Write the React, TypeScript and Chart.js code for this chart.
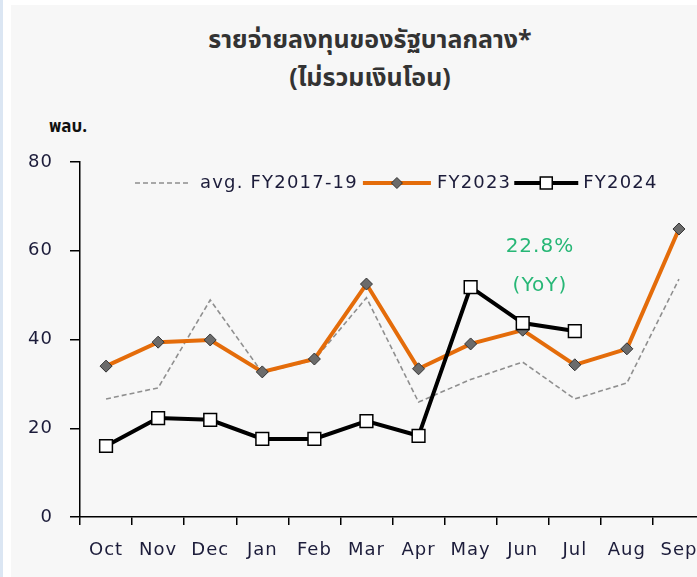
import React, { useEffect, useRef } from 'react';
import { Chart, registerables } from 'chart.js';

Chart.register(...registerables);

const months = ['Oct', 'Nov', 'Dec', 'Jan', 'Feb', 'Mar', 'Apr', 'May', 'Jun', 'Jul', 'Aug', 'Sep'];
const avgFY1719 = [26.6, 29.1, 48.9, 32.5, 35.4, 49.4, 25.9, 31.0, 34.9, 26.6, 30.2, 53.6];
const fy2023 = [34.0, 39.4, 39.9, 32.7, 35.6, 52.5, 33.4, 39.0, 42.1, 34.3, 37.9, 64.9];
const fy2024 = [16.0, 22.3, 21.9, 17.6, 17.6, 21.6, 18.3, 51.8, 43.7, 41.9];
const seriesNames = ['avg. FY2017-19', 'FY2023', 'FY2024'];
const yMin = 0;
const yMax = 80;
const yStep = 20;
const titleLines = ['รายจ่ายลงทุนของรัฐบาลกลาง*', '(ไม่รวมเงินโอน)'];
const unitLabel = 'พลบ.';
const yoyLines = ['22.8%', '(YoY)'];

const TEXT = '#1c1c3a';
const ORANGE = '#e46c0a';
const FONT = '"DejaVu Sans", Verdana, sans-serif';

export default function App() {
  const ref = useRef<HTMLCanvasElement>(null);

  useEffect(() => {
    const canvas = ref.current!;

    const spacingPlugin = {
      id: 'spacing',
      beforeDraw(chart: any) {
        try {
          (chart.ctx as any).letterSpacing = '1px';
        } catch (e) {
          /* ignore */
        }
      },
    };

    const legendPlugin = {
      id: 'customLegend',
      afterDraw(chart: any) {
        const ctx = chart.ctx;
        ctx.save();
        (ctx as any).letterSpacing = '1.2px';
        ctx.font = `18px ${FONT}`;
        ctx.textBaseline = 'middle';
        const y = 183;
        let x = 135;
        const ds = chart.data.datasets;
        // avg dashed
        ctx.strokeStyle = ds[0].borderColor;
        ctx.lineWidth = 1.5;
        ctx.setLineDash([5, 3]);
        ctx.beginPath();
        ctx.moveTo(x, y);
        ctx.lineTo(x + 56, y);
        ctx.stroke();
        ctx.setLineDash([]);
        x += 65;
        ctx.fillStyle = TEXT;
        ctx.fillText(ds[0].label, x, y);
        x += ctx.measureText(ds[0].label).width + 5;
        // FY2023
        ctx.strokeStyle = ds[1].borderColor;
        ctx.lineWidth = 4;
        ctx.beginPath();
        ctx.moveTo(x, y);
        ctx.lineTo(x + 68, y);
        ctx.stroke();
        const cx1 = x + 34;
        ctx.fillStyle = '#6b6b6b';
        ctx.strokeStyle = '#333';
        ctx.lineWidth = 1;
        ctx.beginPath();
        ctx.moveTo(cx1, y - 5.5);
        ctx.lineTo(cx1 + 5.5, y);
        ctx.lineTo(cx1, y + 5.5);
        ctx.lineTo(cx1 - 5.5, y);
        ctx.closePath();
        ctx.fill();
        ctx.stroke();
        x += 74;
        ctx.fillStyle = TEXT;
        ctx.fillText(ds[1].label, x, y);
        x += ctx.measureText(ds[1].label).width + 3;
        // FY2024
        ctx.strokeStyle = '#000';
        ctx.lineWidth = 4;
        ctx.beginPath();
        ctx.moveTo(x, y);
        ctx.lineTo(x + 64, y);
        ctx.stroke();
        const cx2 = x + 32;
        ctx.fillStyle = '#fff';
        ctx.lineWidth = 1.5;
        ctx.fillRect(cx2 - 6, y - 6, 12, 12);
        ctx.strokeRect(cx2 - 6, y - 6, 12, 12);
        x += 69;
        ctx.fillStyle = TEXT;
        ctx.fillText(ds[2].label, x, y);
        ctx.restore();
      },
    };

    const yoyPlugin = {
      id: 'yoyNote',
      afterDraw(chart: any) {
        const ctx = chart.ctx;
        const xs = chart.scales.x;
        const ys = chart.scales.y;
        ctx.save();
        (ctx as any).letterSpacing = '1px';
        ctx.font = `20px ${FONT}`;
        ctx.fillStyle = '#27b776';
        ctx.textAlign = 'center';
        ctx.textBaseline = 'middle';
        const cx = xs.getPixelForValue(8.33);
        ctx.fillText(yoyLines[0], cx, ys.getPixelForValue(60.8));
        ctx.fillText(yoyLines[1], cx, ys.getPixelForValue(52.2));
        ctx.restore();
      },
    };

    const chart = new Chart(canvas, {
      type: 'line',
      data: {
        labels: months,
        datasets: [
          {
            label: seriesNames[0],
            data: avgFY1719,
            borderColor: '#8f8f8f',
            borderWidth: 1.6,
            borderDash: [5, 3],
            pointRadius: 0,
            tension: 0,
            order: 3,
          },
          {
            label: seriesNames[1],
            data: fy2023,
            borderColor: ORANGE,
            borderWidth: 4,
            pointStyle: 'rectRot',
            pointRadius: 6,
            pointBackgroundColor: '#6b6b6b',
            pointBorderColor: '#333',
            pointBorderWidth: 1,
            tension: 0,
            order: 2,
          },
          {
            label: seriesNames[2],
            data: fy2024,
            borderColor: '#000',
            borderWidth: 4,
            pointStyle: 'rect',
            pointRadius: 9,
            pointBackgroundColor: '#fff',
            pointBorderColor: '#000',
            pointBorderWidth: 1.5,
            tension: 0,
            order: 1,
          },
        ],
      },
      options: {
        responsive: false,
        animation: false,
        devicePixelRatio: 1,
        layout: { padding: { left: 0, top: 162, right: 15, bottom: 0 } },
        plugins: {
          legend: { display: false },
          tooltip: { enabled: false },
          title: { display: false },
        },
        scales: {
          x: {
            offset: true,
            grid: {
              offset: true,
              drawOnChartArea: false,
              color: '#000',
              lineWidth: 1.5,
              tickLength: 8,
            },
            border: { color: '#000', width: 1.5 },
            ticks: {
              color: TEXT,
              font: { family: FONT, size: 18 },
              padding: 15,
              maxRotation: 0,
              autoSkip: false,
            },
            afterFit: (scale: any) => {
              scale.height = 60;
            },
          },
          y: {
            min: yMin,
            max: yMax,
            grid: {
              drawOnChartArea: false,
              color: '#000',
              lineWidth: 1.5,
              tickLength: 10,
            },
            border: { color: '#000', width: 1.5 },
            ticks: {
              stepSize: yStep,
              color: TEXT,
              font: { family: FONT, size: 18 },
              padding: 17,
            },
            afterFit: (scale: any) => {
              scale.width = 80;
            },
          },
        },
      },
      plugins: [spacingPlugin, legendPlugin, yoyPlugin],
    });

    return () => chart.destroy();
  }, []);

  return (
    <div
      style={{
        position: 'fixed',
        left: 0,
        top: 0,
        width: 697,
        height: 577,
        overflow: 'hidden',
        background: '#ffffff',
      }}
    >
      <div style={{ position: 'absolute', left: 0, top: 0, width: 3, height: 577, background: '#dbe6f3' }} />
      <div style={{ position: 'absolute', left: 11, top: 5, right: 0, bottom: 0, background: '#f7f7f7' }} />
      <div
        style={{
          position: 'absolute',
          left: 120,
          width: 500,
          top: 21,
          textAlign: 'center',
          fontFamily: '"Noto Sans Thai", Tahoma, "Noto Sans", sans-serif',
          fontSize: 25,
          fontWeight: 'bold',
          lineHeight: '38px',
          color: '#333',
        }}
      >
        <div>{titleLines[0]}</div>
        <div>{titleLines[1]}</div>
      </div>
      <div
        style={{
          position: 'absolute',
          left: 49,
          top: 114,
          fontFamily: '"Noto Sans Thai", Tahoma, "Noto Sans", sans-serif',
          fontSize: 17,
          fontWeight: 'bold',
          color: '#111',
        }}
      >
        {unitLabel}
      </div>
      <canvas
        ref={ref}
        width={720}
        height={577}
        style={{ position: 'absolute', left: 0, top: 0, width: 720, height: 577 }}
      />
    </div>
  );
}
